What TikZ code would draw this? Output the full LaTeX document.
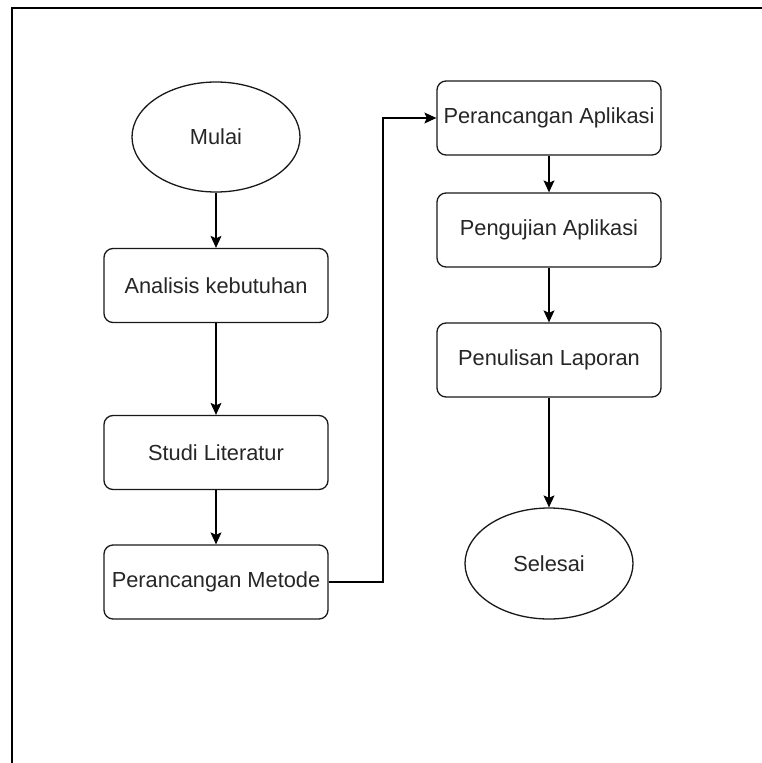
\documentclass[tikz,border=0pt]{standalone}
\usepackage{fontspec}
\setmainfont{Liberation Sans}
\usetikzlibrary{shapes.geometric,arrows.meta}
\begin{document}
\begin{tikzpicture}[x=1pt,y=-1pt,
  every node/.style={font=\fontsize{21.8}{25}\selectfont, text=black!85},
  procbox/.style={draw=black!90, line width=1.3pt, rounded corners=9pt, minimum width=224pt, minimum height=74pt, inner sep=0pt, fill=white},
  termell/.style={draw=black!90, line width=1.3pt, ellipse, minimum width=168pt, minimum height=110pt, inner sep=0pt, fill=white},
  flow/.style={draw=black, line width=1.1pt, -{Stealth[length=12pt,width=11pt,inset=2.5pt]}}
]
\useasboundingbox (0,0) rectangle (762,763);
\fill[white] (0,0) rectangle (762,763);
\draw[line width=1.6pt] (12,763) -- (12,8) -- (762,8);

\node[termell] (mulai) at (216,137) {Mulai};
\node[procbox] (analisis) at (216,285.5) {Analisis kebutuhan};
\node[procbox] (studi) at (216,452.5) {Studi Literatur};
\node[procbox] (metode) at (216,582) {Perancangan Metode};
\node[procbox] (aplikasi) at (549,118) {Perancangan Aplikasi};
\node[procbox] (uji) at (549,230) {Pengujian Aplikasi};
\node[procbox] (tulis) at (549,360) {Penulisan Laporan};
\node[termell, minimum height=111pt] (selesai) at (549,563.5) {Selesai};

\coordinate (c1) at (383,582);
\coordinate (c2) at (383,118);

\draw[flow] (mulai) -- (analisis);
\draw[flow] (analisis) -- (studi);
\draw[flow] (studi) -- (metode);
\draw[flow] (metode.east) -- (c1) -- (c2) -- (aplikasi.west);
\draw[flow] (aplikasi) -- (uji);
\draw[flow] (uji) -- (tulis);
\draw[flow] (tulis) -- (selesai);
\end{tikzpicture}
\end{document}
